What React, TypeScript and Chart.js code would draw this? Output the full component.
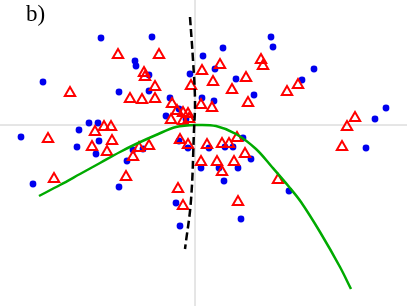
import React, { useEffect, useRef } from "react";
import { Chart, registerables } from "chart.js";

Chart.register(...registerables);

// Blue points (x, y)
const blueX = [-9.4, -15.2, -7.6, -6.0, -5.9, -4.3, 0.8, 2.8, -0.5, 2.0, -4.6, -2.5, 4.1, 0.7, 1.9, 5.9, 7.6, 7.8, 11.9, 10.7, -4.6, -17.4, -16.2, -11.6, -10.6, -9.7, -11.8, -9.6, -9.9, -6.8, -7.6, -6.2, -5.2, -2.9, -1.6, -0.9, -1.6, -0.7, 1.4, 3.0, 3.8, 4.8, 5.6, 0.6, 2.4, 4.3, 2.9, -1.9, -1.5, 4.6, 19.1, 18.0, 17.1, 9.4];
const blueY = [8.7, 4.3, 3.3, 6.4, 5.9, 8.8, 6.9, 7.7, 5.1, 5.6, 3.4, 2.7, 4.6, 2.7, 2.4, 3.0, 8.8, 7.8, 5.6, 4.5, 5.0, -1.2, -5.9, -0.5, 0.2, 0.2, -2.2, -1.6, -2.9, -3.6, -6.2, -2.5, -2.4, 0.9, 1.6, 0.6, -1.6, -2.3, -2.3, -2.2, -2.2, -1.3, -3.4, -4.3, -4.3, -4.3, -5.6, -7.8, -10.1, -9.4, 1.7, 0.6, -2.3, -6.6];

// Red triangles (x, y)
const redX = [-7.7, -12.5, -6.5, -3.6, -5.1, -5.0, -4.0, -5.3, -4.0, -0.4, 0.7, 2.5, 1.8, 3.7, 5.1, 6.6, 6.8, 0.6, 1.7, 5.3, 10.3, 9.2, -14.7, -10.0, -9.1, -8.4, -8.3, -10.3, -8.8, -14.1, -6.9, -6.2, -5.6, -4.6, -1.5, -0.7, 1.2, 2.7, 3.4, 4.2, 5.0, 0.6, 2.2, 3.9, 2.7, -1.7, -1.2, 4.3, 16.0, 15.2, 14.7, 8.3, -2.3, -1.8, -1.2, -0.7, -2.4, -1.2, -0.6];
const redY = [7.0, 3.2, 2.6, 7.0, 5.2, 4.8, 3.8, 2.5, 2.6, 3.9, 5.4, 6.0, 4.3, 3.5, 4.7, 6.5, 5.9, 2.0, 1.7, 2.2, 4.0, 3.3, -1.4, -0.7, -0.2, -0.2, -1.6, -2.2, -2.7, -5.4, -5.2, -3.2, -2.3, -2.1, -1.5, -2.0, -2.0, -1.9, -1.9, -1.3, -2.9, -3.7, -3.7, -3.7, -4.7, -6.4, -8.1, -7.7, 0.7, -0.2, -2.2, -5.5, 2.1, 1.4, 1.2, 1.1, 0.5, 0.4, 0.6];

// Green curve
const curveX = [-15.6, -13.5, -11.5, -9.5, -7.5, -5.9, -3.9, -1.9, 0.1, 2.1, 4.1, 6.1, 7.7, 9.5, 10.6, 12.5, 14.5, 15.6];
const curveY = [-7.1, -6.0, -4.9, -3.8, -2.7, -1.9, -1.0, -0.2, 0.0, -0.1, -0.9, -2.4, -4.2, -6.3, -7.7, -10.7, -14.2, -16.4];

// Dashed black line
const dashX = [-0.5, -0.2, 0.0, -0.1, -0.4, -1.0];
const dashY = [10.8, 6.5, 2.5, -0.5, -7.5, -12.4];

const X_MIN = -19.5;
const X_MAX = 21.2;
const Y_MIN = -18.1;
const Y_MAX = 12.5;

const zip = (xs: number[], ys: number[]) => xs.map((x, i) => ({ x, y: ys[i] }));

export default function App() {
  const ref = useRef<HTMLCanvasElement | null>(null);

  useEffect(() => {
    if (!ref.current) return;
    const chart = new Chart(ref.current, {
      type: "scatter",
      data: {
        datasets: [
          {
            type: "line",
            data: [{ x: X_MIN, y: 0 }, { x: X_MAX, y: 0 }],
            borderColor: "#cccccc",
            borderWidth: 1,
            pointRadius: 0,
            order: 5,
          } as any,
          {
            type: "line",
            data: [{ x: 0, y: Y_MIN }, { x: 0, y: Y_MAX }],
            borderColor: "#cccccc",
            borderWidth: 1,
            pointRadius: 0,
            order: 5,
          } as any,
          {
            data: zip(blueX, blueY),
            pointStyle: "circle",
            pointRadius: 3.4,
            backgroundColor: "#0000ee",
            borderColor: "#0000ee",
            borderWidth: 0,
            order: 4,
          },
          {
            data: zip(redX, redY),
            pointStyle: "triangle",
            pointRadius: 6,
            backgroundColor: "rgba(255,255,255,0)",
            borderColor: "#ff0000",
            borderWidth: 2,
            order: 3,
          },
          {
            type: "line",
            data: zip(curveX, curveY),
            borderColor: "#00aa00",
            borderWidth: 2.5,
            pointRadius: 0,
            tension: 0.35,
            fill: false,
            order: 2,
          } as any,
          {
            type: "line",
            data: zip(dashX, dashY),
            borderColor: "#000000",
            borderWidth: 2.5,
            borderDash: [8, 4],
            pointRadius: 0,
            tension: 0.4,
            fill: false,
            order: 1,
          } as any,
        ],
      },
      options: {
        animation: false,
        responsive: true,
        maintainAspectRatio: false,
        layout: { padding: 0, autoPadding: false },
        plugins: { legend: { display: false }, tooltip: { enabled: false } },
        scales: {
          x: { type: "linear", min: X_MIN, max: X_MAX, display: false },
          y: { type: "linear", min: Y_MIN, max: Y_MAX, display: false },
        },
      },
    });
    return () => chart.destroy();
  }, []);

  return (
    <div style={{ position: "absolute", left: 0, top: 0, width: 407, height: 306, background: "#fff" }}>
      <canvas ref={ref} />
      <div
        style={{
          position: "absolute",
          left: 26,
          top: 1,
          fontFamily: "'Liberation Serif', serif",
          fontSize: 23,
          color: "#000",
          lineHeight: "26px",
        }}
      >
        b)
      </div>
    </div>
  );
}
